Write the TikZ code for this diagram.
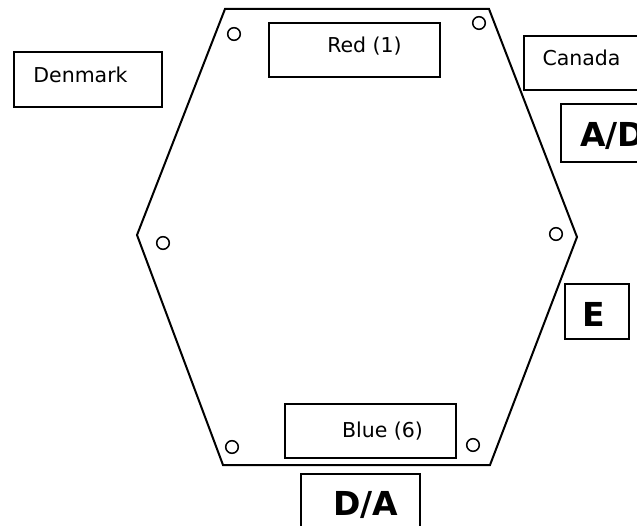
\documentclass[tikz,border=0pt]{standalone}
\usepackage{fontspec}
\setmainfont{DejaVu Sans}
\begin{document}
\begin{tikzpicture}[x=1pt, y=-1pt,
        box/.style = {draw, line width=1.7pt, inner sep=0pt},
        txt/.style = {inner sep=0pt, anchor=base, font=\fontsize{20.5}{24}\selectfont},
        big/.style = {inner sep=0pt, anchor=base, font=\fontsize{33}{38}\selectfont\bfseries},
        hole/.style = {line width=1.5pt}]
    \useasboundingbox (0,0) rectangle (637,526);

    % the board
    \draw[line width=2pt, line join=miter] (225,9) -- (489,9) -- (577,237) -- (490,465)
        -- (223,465) -- (137,235) -- cycle;
    \foreach \x/\y in {234/34, 479/23, 163/243, 556/234, 232/447, 473/445}
        \draw[hole] (\x,\y) circle (6.3pt);

    % boxes
    \node[box, minimum width=148pt, minimum height=55pt] (denmark) at (88,79.5) {};
    \node[box, minimum width=171pt, minimum height=54pt] (red) at (354.5,50) {};
    \node[box, minimum width=140pt, minimum height=54pt] (canada) at (594,63) {};
    \node[box, minimum width=120pt, minimum height=58pt] (ad) at (621,133) {};
    \node[box, minimum width=64pt, minimum height=55pt] (e) at (597,311.5) {};
    \node[box, minimum width=171pt, minimum height=54pt] (blue) at (370.5,431) {};
    \node[box, minimum width=119pt, minimum height=80pt] (da) at (360.5,514) {};

    % labels
    \node[txt] (denmarkt) at (80.5,83) {Denmark};
    \node[txt] (redt) at (364.5,53) {Red (1)};
    \node[txt] (canadat) at (581.5,66) {Canada};
    \node[txt] (bluet) at (382.5,437) {Blue (6)};
    \node[big, anchor=base west] (adt) at (580,147) {A/D};
    \node[big] (et) at (594,327) {E};
    \node[big] (dat) at (366,515) {D/A};
\end{tikzpicture}
\end{document}
